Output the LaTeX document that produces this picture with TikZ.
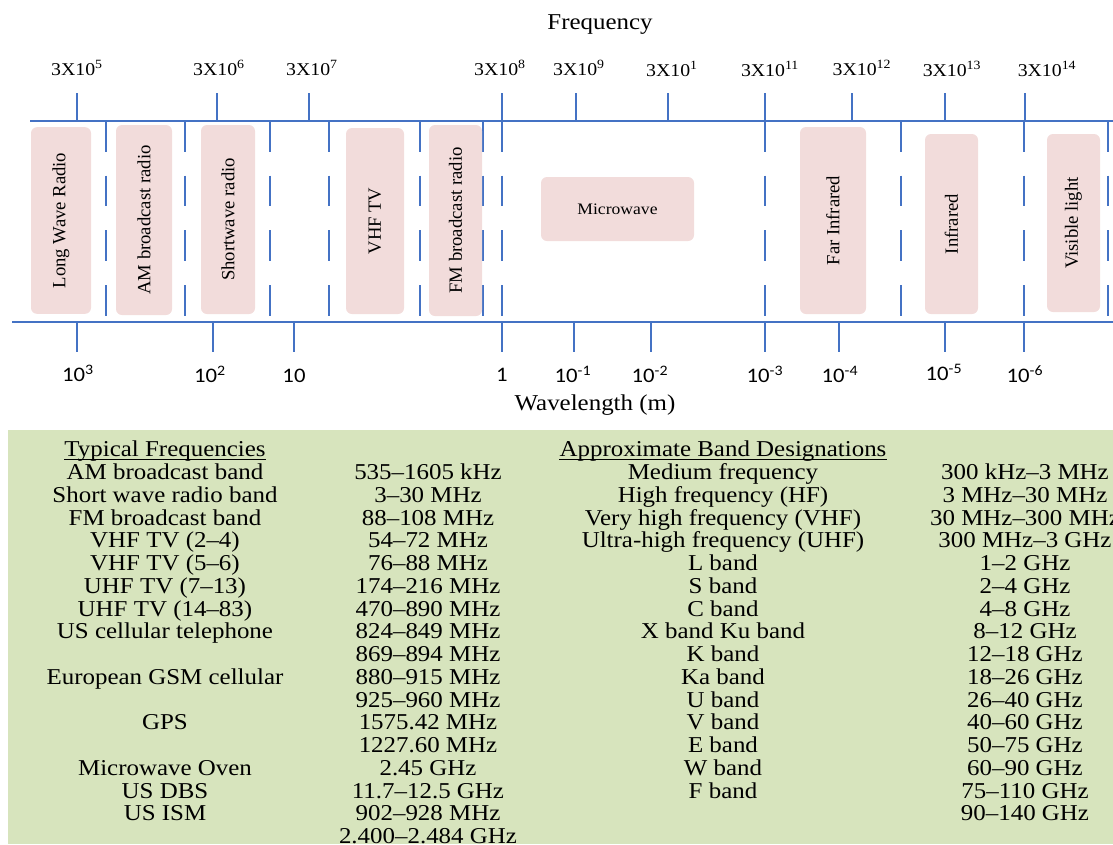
\documentclass[tikz,border=0pt]{standalone}
\usepackage{fontspec}
\setmainfont{Liberation Serif}[FakeStretch=1.1]
\newfontfamily\bandfont{Liberation Serif}
\newfontfamily\wavefont{Carlito}[FakeStretch=1.1]
\definecolor{axisblue}{HTML}{4472C4}
\definecolor{bandpink}{HTML}{F2DCDB}
\definecolor{tablegreen}{HTML}{D7E4BD}

\begin{document}
\begin{tikzpicture}[x=0.75pt, y=-0.75pt,
    axis/.style={draw=axisblue, line width=1pt},
    divider/.style={draw=axisblue, line width=1pt, dash pattern=on 23pt off 18pt},
    bandbox/.style={fill=bandpink, rounded corners=4.5pt, inner sep=0pt},
    band/.style={bandbox, rotate=90, font=\bandfont\fontsize{14}{14}\selectfont},
    freqlabel/.style={anchor=base, inner sep=0pt, font=\fontsize{13.5}{13.5}\selectfont},
    wavelabel/.style={anchor=base, inner sep=0pt, font=\wavefont\fontsize{15.5}{15.5}\selectfont},
    cell/.style={anchor=base, inner sep=0pt, font=\fontsize{17}{17}\selectfont}]
    \useasboundingbox (0,0) rectangle (1113,844);
    \clip (0,0) rectangle (1113,844);

    \node[cell] (freqtitle) at (600,29) {Frequency};
    \node[cell] (wavetitle) at (595,410) {Wavelength (m)};

    \draw[axis] (30,121) -- (1113,121);
    \draw[axis] (12,322) -- (1113,322);
    \foreach \x in {77,217,309,502,576,668,765,852,945,1025}
      \draw[axis] (\x,93) -- (\x,121);
    \foreach \x in {77,213,294,502,574,651,765,839,945,1024}
      \draw[axis] (\x,322) -- (\x,352);
    \foreach \x in {106,185,270,329,420,483,502,765,901,1024,1108}
      \draw[divider] (\x,121) -- (\x,322);

    \node[freqlabel] (f5) at (77,75) {3X10\textsuperscript{5}};
    \node[freqlabel] (f6) at (219,75) {3X10\textsuperscript{6}};
    \node[freqlabel] (f7) at (312,75) {3X10\textsuperscript{7}};
    \node[freqlabel] (f8) at (500,75) {3X10\textsuperscript{8}};
    \node[freqlabel] (f9) at (579,75) {3X10\textsuperscript{9}};
    \node[freqlabel] (f10) at (672,76) {3X10\textsuperscript{1}};
    \node[freqlabel] (f11) at (770,76) {3X10\textsuperscript{11}};
    \node[freqlabel] (f12) at (862,75) {3X10\textsuperscript{12}};
    \node[freqlabel] (f13) at (952,76) {3X10\textsuperscript{13}};
    \node[freqlabel] (f14) at (1047,76) {3X10\textsuperscript{14}};

    \node[wavelabel] (w3) at (78,381) {10\textsuperscript{3}};
    \node[wavelabel] (w2) at (210,382) {10\textsuperscript{2}};
    \node[wavelabel] (w1) at (294,382) {10};
    \node[wavelabel] (w0) at (502,381) {1};
    \node[wavelabel] (wm1) at (573,382) {10\textsuperscript{-1}};
    \node[wavelabel] (wm2) at (650,382) {10\textsuperscript{-2}};
    \node[wavelabel] (wm3) at (765,382) {10\textsuperscript{-3}};
    \node[wavelabel] (wm4) at (840,382) {10\textsuperscript{-4}};
    \node[wavelabel] (wm5) at (944,380) {10\textsuperscript{-5}};
    \node[wavelabel] (wm6) at (1025,382) {10\textsuperscript{-6}};

    \node[band, minimum width=140pt, minimum height=45pt] (longwave) at (61,220.5) {Long Wave Radio};
    \node[band, minimum width=142.5pt, minimum height=42pt] (amradio) at (144,220) {AM broadcast radio};
    \node[band, minimum width=141.75pt, minimum height=40.5pt] (swradio) at (228,219.5) {Shortwave radio};
    \node[band, minimum width=139.5pt, minimum height=43.5pt] (vhftv) at (375,221) {VHF TV};
    \node[band, minimum width=143.25pt, minimum height=39.75pt] (fmradio) at (455.5,220.5) {FM broadcast radio};
    \node[bandbox, minimum width=114.75pt, minimum height=48pt, font=\fontsize{12}{12}\selectfont] (microwave) at (617.5,209) {Microwave};
    \node[band, minimum width=140.25pt, minimum height=49.5pt] (farir) at (833,220.5) {Far Infrared};
    \node[band, minimum width=135pt, minimum height=39.75pt] (infrared) at (951.5,224) {Infrared};
    \node[band, minimum width=133.5pt, minimum height=39.75pt] (visible) at (1073.5,223) {Visible light};

    \fill[tablegreen] (8,430) rectangle (1113,844);

    \node[cell] (typhead) at (165,456.5) {Typical Frequencies};
    \node[cell] (bandhead) at (723,456.5) {Approximate Band Designations};
    \draw[line width=0.75pt] ([yshift=-2pt]typhead.base west) -- ([yshift=-2pt]typhead.base east);
    \draw[line width=0.75pt] ([yshift=-2pt]bandhead.base west) -- ([yshift=-2pt]bandhead.base east);

    \foreach \txt [count=\i from 0] in {AM broadcast band, Short wave radio band, FM broadcast band,
        VHF TV (2–4), VHF TV (5–6), UHF TV (7–13), UHF TV (14–83), US cellular telephone, {},
        European GSM cellular, {}, GPS, {}, Microwave Oven, US DBS, US ISM, {}}
      \node[cell] (use\i) at (165,479.5+22.75*\i) {\txt};
    \foreach \txt [count=\i from 0] in {535–1605 kHz, 3–30 MHz, 88–108 MHz, 54–72 MHz, 76–88 MHz,
        174–216 MHz, 470–890 MHz, 824–849 MHz, 869–894 MHz, 880–915 MHz, 925–960 MHz,
        1575.42 MHz, 1227.60 MHz, 2.45 GHz, 11.7–12.5 GHz, 902–928 MHz, 2.400–2.484 GHz}
      \node[cell] (freq\i) at (428,479.5+22.75*\i) {\txt};
    \foreach \txt [count=\i from 0] in {Medium frequency, High frequency (HF), Very high frequency (VHF),
        Ultra-high frequency (UHF), L band, S band, C band, X band Ku band, K band, Ka band,
        U band, V band, E band, W band, F band}
      \node[cell] (name\i) at (723,479.5+22.75*\i) {\txt};
    \foreach \txt [count=\i from 0] in {300 kHz–3 MHz, 3 MHz–30 MHz, 30 MHz–300 MHz, 300 MHz–3 GHz,
        1–2 GHz, 2–4 GHz, 4–8 GHz, 8–12 GHz, 12–18 GHz, 18–26 GHz, 26–40 GHz, 40–60 GHz,
        50–75 GHz, 60–90 GHz, 75–110 GHz, 90–140 GHz}
      \node[cell] (range\i) at (1025,479.5+22.75*\i) {\txt};
  \end{tikzpicture}
\end{document}
